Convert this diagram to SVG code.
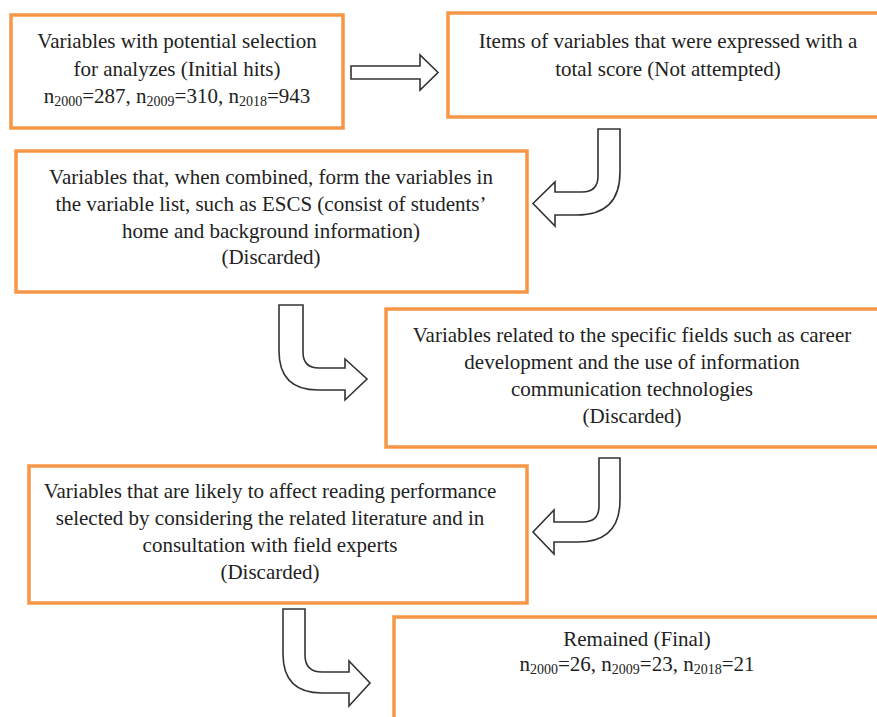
<svg xmlns="http://www.w3.org/2000/svg" width="877" height="717" viewBox="0 0 877 717">
<style>
.box{fill:#fff;stroke:#F79646;stroke-width:3.5}
.t{font-family:'Liberation Serif','Times New Roman','DejaVu Serif',serif;font-size:21px;fill:#222;text-anchor:middle}
.s{font-size:14px}
.arr{fill:#fff;stroke:#333;stroke-width:1.6;stroke-linejoin:miter}
</style>
<rect width="877" height="717" fill="#fff"/>
<g id="n1">
<rect class="box" x="11" y="15" width="332" height="113"/>
<text class="t" x="177" y="48">Variables with potential selection</text>
<text class="t" x="177" y="76">for analyzes (Initial hits)</text>
<text class="t" x="177" y="103">n<tspan class="s" dy="3">2000</tspan><tspan dy="-3">=287, n</tspan><tspan class="s" dy="3">2009</tspan><tspan dy="-3">=310, n</tspan><tspan class="s" dy="3">2018</tspan><tspan dy="-3">=943</tspan></text>
</g>
<g id="n2">
<rect class="box" x="448" y="13" width="440" height="104"/>
<text class="t" x="668" y="48">Items of variables that were expressed with a</text>
<text class="t" x="668" y="76">total score (Not attempted)</text>
</g>
<g id="n3">
<rect class="box" x="16" y="151" width="511" height="141"/>
<text class="t" x="271" y="184">Variables that, when combined, form the variables in</text>
<text class="t" x="271" y="211">the variable list, such as ESCS (consist of students’</text>
<text class="t" x="271" y="238">home and background information)</text>
<text class="t" x="271" y="264">(Discarded)</text>
</g>
<g id="n4">
<rect class="box" x="386" y="309" width="500" height="138"/>
<text class="t" x="632" y="342">Variables related to the specific fields such as career</text>
<text class="t" x="632" y="369">development and the use of information</text>
<text class="t" x="632" y="396">communication technologies</text>
<text class="t" x="632" y="423">(Discarded)</text>
</g>
<g id="n5">
<rect class="box" x="29" y="466" width="498" height="137"/>
<text class="t" x="270" y="498">Variables that are likely to affect reading performance</text>
<text class="t" x="270" y="525">selected by considering the related literature and in</text>
<text class="t" x="270" y="552">consultation with field experts</text>
<text class="t" x="270" y="579">(Discarded)</text>
</g>
<g id="n6">
<rect class="box" x="394" y="617" width="500" height="120"/>
<text class="t" x="637" y="646">Remained (Final)</text>
<text class="t" x="637" y="671">n<tspan class="s" dy="3">2000</tspan><tspan dy="-3">=26, n</tspan><tspan class="s" dy="3">2009</tspan><tspan dy="-3">=23, n</tspan><tspan class="s" dy="3">2018</tspan><tspan dy="-3">=21</tspan></text>
</g>
<g id="connectors">
<path class="arr" d="M351,66 L420,66 L420,55 L438,72.5 L420,90 L420,79 L351,79 Z"/>
<path class="arr" d="M598,129 L620,129 L620,172 Q620,215 577,215 L555,215 L555,226 L533,203.5 L555,182 L555,192 L582,192 Q598,192 598,176 Z"/>
<path class="arr" d="M279,305 L303,305 L303,352 Q303,368 319,368 L345,368 L345,359 L367,379 L345,400 L345,390 L318,390 Q279,390 279,351 Z"/>
<path class="arr" d="M599,458 L620,458 L620,500 Q620,542 578,542 L554,542 L554,554 L533,532 L554,510 L554,522 L583,522 Q599,522 599,506 Z"/>
<path class="arr" d="M283,609 L305,609 L305,655 Q305,672 322,672 L349,672 L349,661 L370,683 L349,706 L349,693 L322,693 Q283,693 283,654 Z"/>
</g>
</svg>
